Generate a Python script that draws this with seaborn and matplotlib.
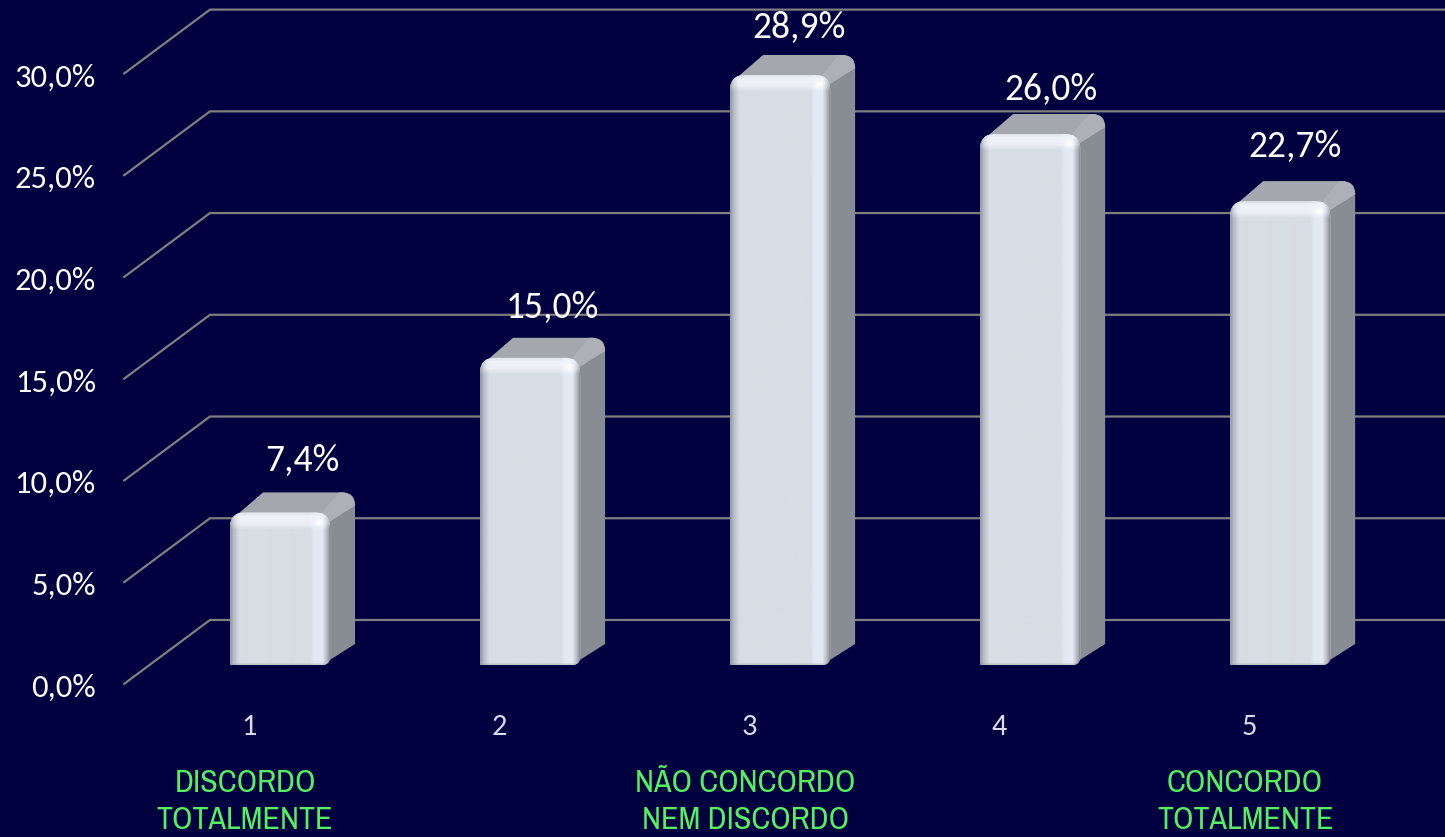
import numpy as np
import pandas as pd
import seaborn as sns
import matplotlib
matplotlib.use('Agg')
import matplotlib.pyplot as plt
from matplotlib.colors import to_rgb
from matplotlib.patches import PathPatch
from matplotlib.patches import Polygon
from matplotlib.path import Path
from matplotlib.transforms import IdentityTransform, ScaledTranslation

# chart values
categories = ['1', '2', '3', '4', '5']
values = [7.4, 15.0, 28.9, 26.0, 22.7]
value_labels = ['7,4%', '15,0%', '28,9%', '26,0%', '22,7%']
y_ticks = [0, 5, 10, 15, 20, 25, 30]
y_tick_labels = ['0,0%', '5,0%', '10,0%', '15,0%', '20,0%', '25,0%', '30,0%']
scale_positions = [0, 2, 4]
scale_labels = ['DISCORDO\nTOTALMENTE', 'NÃO CONCORDO\nNEM DISCORDO', 'CONCORDO\nTOTALMENTE']

BG = '#000040'
GRID = '#7F7F7F'
FRONT = '#D7DDE4'
SIDE = '#888C93'
TOP = '#A4A7AD'
GREEN = '#55F05F'
TICK = '#DADAEA'

sns.set_theme(style='dark', rc={'axes.facecolor': BG, 'figure.facecolor': BG,
                                'axes.grid': False})
plt.rcParams['font.family'] = ['Carlito', 'Lato', 'DejaVu Sans']

fig = plt.figure(figsize=(14.452, 8.372), dpi=100)
ax = fig.add_axes([0, 0, 1, 1])
df = pd.DataFrame({'cat': categories, 'val': values})
sns.barplot(data=df, x='cat', y='val', color=FRONT, saturation=1, width=0.4,
            ax=ax, zorder=3)
ax.set_xlim(-1.12, 4.66)
ax.set_ylim(-8.505, 32.645)
ax.set_xlabel('')
ax.set_ylabel('')
sns.despine(ax=ax, left=True, bottom=True)


def px_offset(dx, dy):
    return ScaledTranslation(dx / 100, dy / 100, fig.dpi_scale_trans)


# ticks live inside the axes, shifted towards the front plane of the box
ax.set_yticks(y_ticks)
ax.set_yticklabels(y_tick_labels)
ax.set_xticks(range(len(categories)))
ax.set_xticklabels(categories)
ax.tick_params(axis='y', length=0, pad=-69, labelsize=23.5, labelcolor='white')
ax.tick_params(axis='x', length=0, pad=-89, labelsize=22, labelcolor=TICK)
for lab in ax.get_yticklabels():
    lab.set_transform(lab.get_transform() + px_offset(0, -21))
for lab in ax.get_xticklabels():
    lab.set_transform(lab.get_transform() + px_offset(-31, 0))

# walls of the fake 3d box, drawn in pixels from the y scale
to_px = ax.transData.transform
for t in y_ticks:
    y0 = to_px((0, t))[1]
    xs = [124, 210, 1445]
    ys = [y0 - 20, y0 + 44, y0 + 44]
    ax.plot(xs, ys, color=GRID, lw=1.6, transform=IdentityTransform(), zorder=1,
            solid_joinstyle='miter')


def lerp_colors(stops, n):
    pos = [s[0] for s in stops]
    rgb = np.array([to_rgb(s[1]) for s in stops])
    xi = np.linspace(0, 100, n)
    return np.stack([np.interp(xi, pos, rgb[:, k]) for k in range(3)], axis=1)


def front_path(x0, y0, x1, y1):
    r, rb = 15, 8
    verts = [(x0, y0 + 1), (x0, y1 - r), (x0, y1), (x0 + r, y1),
             (x1 - r, y1), (x1, y1), (x1, y1 - r), (x1, y0 + rb),
             (x1, y0), (x1 - rb, y0), (x0 + 2, y0), (x0, y0), (x0, y0 + 1)]
    codes = [Path.MOVETO, Path.LINETO, Path.CURVE3, Path.CURVE3,
             Path.LINETO, Path.CURVE3, Path.CURVE3, Path.LINETO,
             Path.CURVE3, Path.CURVE3, Path.LINETO, Path.CURVE3, Path.CURVE3]
    return Path(verts, codes)


def front_shading(w, h):
    stops = [(0, '#9097A2'), (3, '#B4BAC4'), (9, FRONT), (80, FRONT), (84, '#E3E9F3'),
             (92, '#E4EAF4'), (97, '#AEB3BB'), (100, '#80858C')]
    img = np.tile(lerp_colors(stops, w)[None, :, :], (h, 1, 1))
    yy, xx = np.mgrid[0:h, 0:w]
    band = np.interp(yy, [0, 4, 11, 17], [0.2, 0.85, 0.75, 0])[..., None]
    inset = np.interp(xx, [0, 8, 90, 99], [0.2, 1, 1, 0.3])[..., None]
    a = band * inset
    img = img * (1 - a) + np.array(to_rgb('#F2F5FC')) * a
    spot = np.exp(-((xx - 88) ** 2 + (yy - 10) ** 2) / 12.0)[..., None]
    img = img * (1 - spot) + spot
    low = np.interp(yy, [h - 3, h - 1], [0, 0.35])[..., None]
    return img * (1 - low) + np.array(to_rgb('#8A8F96')) * low


DX, DY = 25, 20
px = IdentityTransform()
for bar, val in zip(ax.patches, values):
    (x0, y0), (x1, y1) = to_px([(bar.get_x(), 0), (bar.get_x() + bar.get_width(), val)])
    y0 -= 1
    y1 += 1
    side = Polygon([(x1 - 8, y0), (x1 + DX, y0 + DY + 1), (x1 + DX, y1 + DY - 12),
                    (x1 - 4, y1 - 8)], closed=True, fc=SIDE, ec='none', transform=px, zorder=2)
    ax.add_patch(side)
    top_verts = [(x0 + 4, y1 - 5), (x0 + 33, y1 + DY), (x1 + DX - 13, y1 + DY),
                 (x1 + DX, y1 + DY), (x1 + DX, y1 + DY - 13), (x1 - 2, y1 - 10), (x0 + 4, y1 - 5)]
    top_codes = [Path.MOVETO, Path.LINETO, Path.LINETO, Path.CURVE3, Path.CURVE3,
                 Path.LINETO, Path.CLOSEPOLY]
    ax.add_patch(PathPatch(Path(top_verts, top_codes), fc=TOP, ec='none', transform=px, zorder=2))
    # lighter bevel between top and side
    ax.add_patch(PathPatch(Path([(x1 - 8, y1), (x1 + DX - 16, y1 + DY), (x1 + DX - 12, y1 + DY),
                                 (x1 + DX - 1, y1 + DY - 1), (x1 + DX, y1 + DY - 13),
                                 (x1, y1 - 9), (x1 - 8, y1)],
                                [Path.MOVETO, Path.LINETO, Path.LINETO, Path.CURVE3, Path.CURVE3,
                                 Path.LINETO, Path.CLOSEPOLY]),
                           fc='#ADB0B6', ec='none', transform=px, zorder=2.1))

    clip = PathPatch(front_path(x0, y0, x1, y1), transform=px, fc='none', ec='none')
    ax.add_patch(clip)
    bar.set_clip_path(clip)
    w, h = int(round(x1 - x0)), int(round(y1 - y0))
    im = ax.imshow(front_shading(w, h), aspect='auto', zorder=4, interpolation='bilinear',
                   extent=(bar.get_x(), bar.get_x() + bar.get_width(), -0.05, val + 0.05))
    im.set_clip_path(clip)

ax.set_xlim(-1.12, 4.66)
ax.set_ylim(-8.505, 32.645)

# value labels above each bar
nudge = [(22, 53), (22, 52), (19, 49), (21, 46), (15, 56)]
for i, (val, txt) in enumerate(zip(values, value_labels)):
    ax.annotate(txt, xy=(i, val), xytext=(nudge[i][0] * 0.72, nudge[i][1] * 0.72),
                textcoords='offset points', ha='center', va='center', color='white',
                fontsize=27, zorder=6)

# scale description in green under the axis
for pos, txt in zip(scale_positions, scale_labels):
    ax.annotate(txt, xy=(pos, 0), xycoords=('data', 'axes fraction'),
                xytext=(-35 * 0.72, 36 * 0.72), textcoords='offset points',
                ha='center', va='center', color=GREEN, fontsize=23, linespacing=1.38,
                family=['Liberation Sans Narrow', 'Archivo Narrow', 'Liberation Sans'], zorder=6)

fig.savefig('out.png', dpi=100, facecolor=BG)
